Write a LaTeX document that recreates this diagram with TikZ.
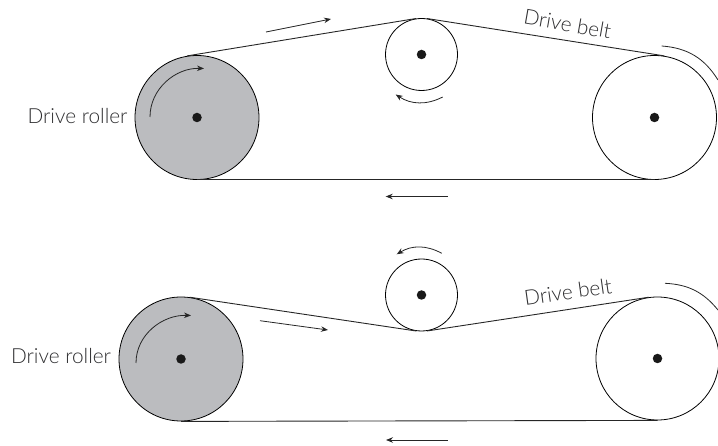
\documentclass[tikz,border=0pt]{standalone}
\usepackage{fontspec}
\setmainfont{Lato}[UprightFont=* Light]
\usetikzlibrary{arrows.meta}
\definecolor{rollergray}{HTML}{BBBCBF}
\definecolor{labelgray}{HTML}{2E2E30}
\tikzset{
  pulley/.style={draw,circle,inner sep=0pt,line width=0.8pt},
  hub/.style={fill=black!90,circle,inner sep=0pt,minimum size=9.5pt},
  belt/.style={line width=0.9pt,black!85},
  motion/.style={-{Stealth[length=7pt,width=5.5pt]},line width=0.8pt,black!85},
  lab/.style={text=labelgray,font=\fontsize{20.8}{24}\selectfont}
}
\begin{document}
\begin{tikzpicture}[x=1pt,y=-1pt]
      \useasboundingbox (0,0) rectangle (718,446);
      \clip (0,0) rectangle (718,446);

      % TOP ROLLERS
      \node[pulley,fill=rollergray,minimum size=124pt] (driveA) at (197,117.5) {};
      \node[pulley,minimum size=72pt] (idlerA) at (421.5,54.5) {};
      \node[pulley,minimum size=124pt] (wheelA) at (654.5,117.5) {};
      \node[hub] (hubdriveA) at (driveA.center) {};
      \node[hub] (hubidlerA) at (idlerA.center) {};
      \node[hub] (hubwheelA) at (wheelA.center) {};

      % BOTTOM ROLLERS
      \node[pulley,fill=rollergray,minimum size=124pt] (driveB) at (181,359) {};
      \node[pulley,minimum size=72pt] (idlerB) at (421.5,295) {};
      \node[pulley,minimum size=123pt] (wheelB) at (657.5,358.5) {};
      \node[hub] (hubdriveB) at (driveB.center) {};
      \node[hub] (hubidlerB) at (idlerB.center) {};
      \node[hub] (hubwheelB) at (wheelB.center) {};

      % BELTS
      \draw[belt] (driveA.99.5) -- (idlerA.99.5);
      \draw[belt] (idlerA.81) -- (wheelA.81);
      \draw[belt] (driveA.south) -- (wheelA.south);
      \draw[belt] (driveB.82) -- (idlerB.-98);
      \draw[belt] (idlerB.-81.5) -- (wheelB.98.5);
      \draw[belt] (driveB.south) -- (wheelB.south);

      % NOTES
      \node[lab] (rollerA) at (77.5,116) {Drive roller};
      \node[lab] (rollerB) at (61,356) {Drive roller};
      \node[lab,rotate=-10] (beltA) at (567.5,24) {Drive belt};
      \node[lab,rotate=8] (beltB) at (568,292) {Drive belt};

      % ARROW ENDS
      \coordinate (a1) at (150,117);     \coordinate (a2) at (204,68.5);
      \coordinate (a3) at (266,32);      \coordinate (a4) at (331,19);
      \coordinate (a5) at (442.7,97);    \coordinate (a6) at (395.7,94.5);
      \coordinate (a7) at (447.7,196.5); \coordinate (a8) at (385.7,196.5);
      \coordinate (a9) at (661.7,46);    \coordinate (a10) at (718,80);
      \coordinate (b1) at (136,363);     \coordinate (b2) at (191,315.5);
      \coordinate (b3) at (260,320.7);   \coordinate (b4) at (328,330);
      \coordinate (b5) at (441.7,253.3); \coordinate (b6) at (396.7,254.3);
      \coordinate (b7) at (447.7,440);   \coordinate (b8) at (386,440);
      \coordinate (b9) at (665,283.3);   \coordinate (b10) at (718,310);

      % ARROWS
      \draw[motion] (a1) to[out=90,in=178] (a2);
      \draw[motion] (a3) -- (a4);
      \draw[motion] (a5) to[bend left=30] (a6);
      \draw[motion] (a7) -- (a8);
      \draw[line width=0.8pt,black!85] (a9) to[bend left=27] (a10);

      \draw[motion] (b1) to[out=90,in=178] (b2);
      \draw[motion] (b3) -- (b4);
      \draw[motion] (b5) to[bend right=30] (b6);
      \draw[motion] (b7) -- (b8);
      \draw[line width=0.8pt,black!85] (b9) to[bend left=24] (b10);
\end{tikzpicture}
\end{document}
